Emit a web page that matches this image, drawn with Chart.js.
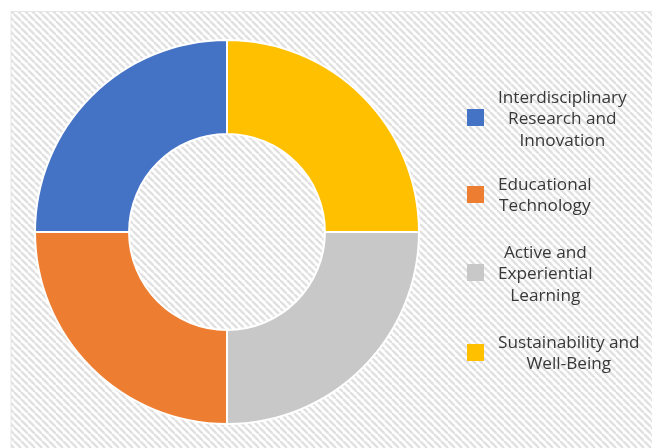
<!DOCTYPE html>
<html>
<head>
<meta charset="utf-8">
<script src="https://cdn.jsdelivr.net/npm/chart.js@4"></script>
<style>
    html, body { margin: 0; padding: 0; background: #ffffff; }
    .wrap { position: relative; width: 652px; height: 448px; }
    #donut { position: absolute; left: 0; top: 0; }
    .legend { position: absolute; left: 467px; top: 0; font-family: "Open Sans", Lato, sans-serif; font-size: 17.2px; color: #383838; }
    .legend__item { position: absolute; left: 0; display: flex; align-items: center; white-space: nowrap; }
    .legend__box { width: 17px; height: 17px; margin-right: 14px; flex: none; }
    .legend__text { text-align: center; line-height: 21.5px; }
</style>
</head>
<body>
<div class="wrap">
    <canvas id="donut" width="652" height="448"></canvas>
    <div class="legend"></div>
</div>
<script>
// legend order
const categories = [
    ['Interdisciplinary', 'Research and', 'Innovation'],
    ['Educational', 'Technology'],
    ['Active and', 'Experiential', 'Learning'],
    ['Sustainability and', 'Well-Being']
];
const shares = [25, 25, 25, 25];
const colors = ['#4472C4', '#ED7D31', '#C8C8C8', '#FFC000'];
const legendCenters = [118, 194, 273, 352];

// stripes behind everything
function makeHatch() {
    const tile = document.createElement('canvas');
    tile.width = 7;
    tile.height = 7;
    const t = tile.getContext('2d');
    t.fillStyle = '#ffffff';
    t.fillRect(0, 0, 7, 7);
    t.strokeStyle = '#e1e1e1';
    t.lineWidth = 2.4;
    for (let k = -1; k <= 1; k++) {
        t.beginPath();
        t.moveTo(k * 7, 0);
        t.lineTo(k * 7 + 7, 7);
        t.stroke();
    }
    return tile;
}

const hatchBg = {
    id: 'hatchBg',
    beforeDraw(chart) {
        const ctx = chart.ctx;
        ctx.save();
        ctx.fillStyle = ctx.createPattern(makeHatch(), 'repeat');
        ctx.fillRect(11, 11, chart.width - 11, chart.height - 11);
        ctx.strokeStyle = '#e6e6e6';
        ctx.lineWidth = 1;
        ctx.beginPath();
        ctx.moveTo(11, chart.height);
        ctx.lineTo(11, 11.5);
        ctx.lineTo(chart.width, 11.5);
        ctx.stroke();
        ctx.restore();
    }
};

// Excel draws these counter-clockwise, so flip for Chart.js
const ctx = document.getElementById('donut').getContext('2d');
const chart = new Chart(ctx, {
    type: 'doughnut',
    data: {
        labels: categories.slice().reverse().map(l => l.join(' ')),
        datasets: [{
            data: shares.slice().reverse(),
            backgroundColor: colors.slice().reverse(),
            borderColor: '#ffffff',
            borderWidth: 2
        }]
    },
    options: {
        responsive: false,
        animation: false,
        cutout: '51%',
        rotation: 0,
        layout: {
            padding: { left: 33, right: 231, top: 39, bottom: 23 }
        },
        plugins: {
            legend: { display: false },
            tooltip: { enabled: false }
        }
    },
    plugins: [hatchBg]
});

const legendEl = document.querySelector('.legend');
categories.forEach((lines, i) => {
    const item = document.createElement('div');
    item.className = 'legend__item';
    item.innerHTML = `
        <div class="legend__box" style="background:${colors[i]}"></div>
        <div class="legend__text">${lines.join('<br>')}</div>
    `;
    legendEl.appendChild(item);
    item.style.top = (legendCenters[i] - item.offsetHeight / 2) + 'px';
});
</script>
</body>
</html>
